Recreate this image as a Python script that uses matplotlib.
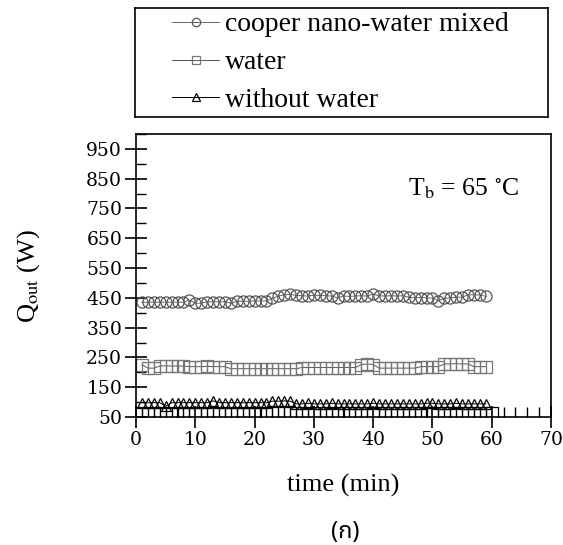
import numpy as np
import matplotlib
matplotlib.use('Agg')
import matplotlib.pyplot as plt
from matplotlib import font_manager
from matplotlib.ticker import MultipleLocator

# --- data ---
t = np.arange(1, 60)
nano = [435, 435, 436, 435, 436, 435, 436, 435, 443, 432,
        432, 437, 437, 436, 437, 432, 438, 439, 438, 440,
        439, 440, 448, 456, 460, 462, 458, 457, 456, 459,
        458, 457, 456, 450, 456, 455, 456, 457, 456, 463,
        457, 456, 457, 456, 457, 452, 450, 451, 450, 449,
        440, 448, 450, 452, 452, 460, 460, 460, 455]
water = [225, 214, 214, 221, 222, 221, 221, 221, 219, 219,
         219, 220, 219, 219, 219, 212, 212, 212, 212, 212,
         212, 212, 212, 212, 212, 212, 212, 216, 216, 216,
         216, 216, 216, 216, 216, 216, 216, 226, 228, 226,
         214, 214, 214, 214, 214, 214, 214, 219, 219, 219,
         219, 228, 228, 229, 228, 228, 219, 219, 219]
dry = [98, 98, 98, 98, 86, 98, 98, 98, 98, 98,
       98, 98, 104, 98, 98, 98, 98, 98, 98, 98,
       98, 98, 103, 103, 104, 103, 94, 94, 96, 94,
       94, 94, 96, 94, 94, 94, 94, 94, 94, 96,
       94, 94, 94, 94, 94, 94, 94, 94, 96, 96,
       94, 94, 94, 96, 94, 94, 94, 94, 94]
t_base = np.arange(0, 61, 2)
base = [62] * len(t_base)

labels = ['cooper nano-water mixed', 'water', 'without water']
y_ticks = [50, 150, 250, 350, 450, 550, 650, 750, 850, 950]

serif = 'Liberation Serif'
plt.rcParams['font.family'] = serif
plt.rcParams['mathtext.fontset'] = 'stix'

names = {f.name for f in font_manager.fontManager.ttflist}
thai = 'DejaVu Sans'
for cand in ['Noto Sans Thai', 'Kanit', 'Prompt', 'Sarabun', 'Bai Jamjuree', 'Chakra Petch', 'Athiti']:
    if cand in names:
        thai = cand
        break

fig = plt.figure(figsize=(5.63, 5.45), dpi=100)
ax = fig.add_axes([0.2416, 0.2349, 0.7371, 0.5192])

l1, = ax.plot(t, nano, color='#666666', lw=0.7, marker='o', ms=8,
              mfc='none', mec='#555555', mew=0.9)
l2, = ax.plot(t, water, color='#555555', lw=0.7, marker='s', ms=8,
              mfc='none', mec='#777777', mew=0.9)
l3, = ax.plot(t, dry, color='black', lw=0.7, marker='^', ms=7,
              mfc='none', mec='black', mew=0.9)
ax.plot(t_base, base, color='black', lw=0.8, marker='s', ms=8,
        mfc='none', mec='black', mew=0.9, ls='none')

ax.set_xlim(0, 70)
ax.set_ylim(50, 1000)
ax.set_xticks(range(0, 71, 10))
ax.set_yticks(y_ticks)
ax.xaxis.set_minor_locator(MultipleLocator(2))
ax.yaxis.set_minor_locator(MultipleLocator(50))
ax.tick_params(which='major', direction='inout', length=16, width=1.2,
               labelsize=13.5, pad=2, top=False, right=False)
ax.tick_params(which='minor', direction='in', length=7, width=1.0,
               top=False, right=False)
for lab in ax.get_xticklabels() + ax.get_yticklabels():
    lab.set_family('DejaVu Serif')
for s in ax.spines.values():
    s.set_linewidth(1.2)

ax.set_xlabel('time (min)', fontsize=19, labelpad=18)
ax.set_ylabel(r'Q$_{\rm out}$ (W)', fontsize=19, labelpad=32)
ax.text(0.655, 0.784, r'T$_{\rm b}$ = 65 $^{\circ}$C', transform=ax.transAxes,
        fontsize=18.5, ha='left', va='baseline')

# legend in its own boxed panel above the plot
lax = fig.add_axes([0.2398, 0.7853, 0.7336, 0.2])
lax.set_xticks([])
lax.set_yticks([])
for s in lax.spines.values():
    s.set_linewidth(1.2)
leg = lax.legend([l1, l2, l3], labels, loc='center left',
                 bbox_to_anchor=(0.0896, 0.5), frameon=False, fontsize=20,
                 handlelength=1.7, handletextpad=0.2, labelspacing=0.45,
                 borderpad=0, borderaxespad=0)
for h in leg.legend_handles:
    h.set_markersize(6)

fig.text(0.613, 0.024, '(ก)', family=[thai, 'DejaVu Sans'], fontsize=17,
         ha='center', va='center')

fig.savefig('out.png', dpi=100)
